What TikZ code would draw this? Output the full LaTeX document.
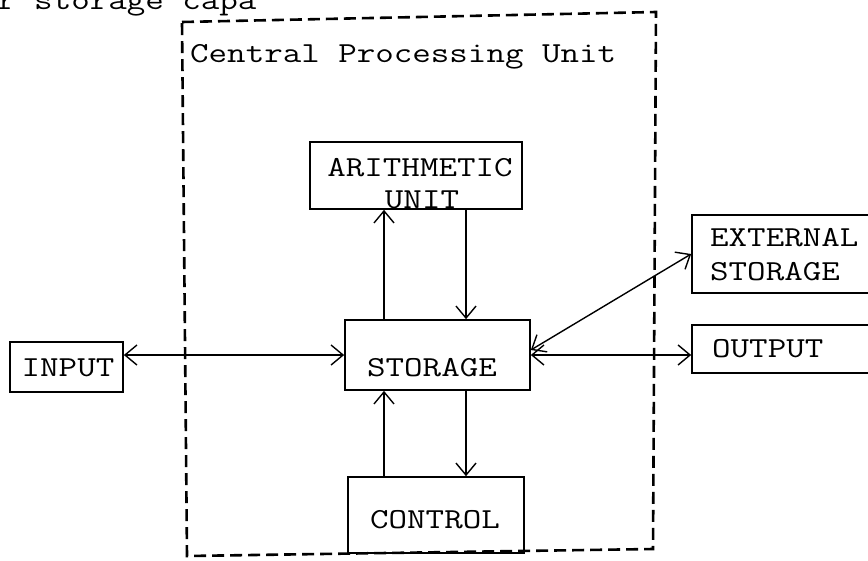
\documentclass[tikz,border=0pt]{standalone}
\usepackage{fontspec}
\usetikzlibrary{arrows.meta}
\newcommand\widetxt[1]{\scalebox{1.24}[1]{#1}}
\tikzset{
  box/.style={draw=black, line width=1.7pt, inner sep=0pt, minimum width=#1},
  lbl/.style={inner sep=0pt, font=\ttfamily\fontsize{29}{32}\selectfont},
  conn/.style={line width=1.4pt, {Straight Barb[length=12pt,width=20pt]}-{Straight Barb[length=12pt,width=20pt]}},
  one/.style={line width=1.4pt, -{Straight Barb[length=12pt,width=20pt]}},
  cpu/.style={line width=2.6pt, dash pattern=on 12pt off 6pt}
}
\begin{document}
\begin{tikzpicture}[x=1pt,y=-1pt]
\useasboundingbox (0,0) rectangle (868,560);
\clip (0,0) rectangle (868,560);
% partial line of text cut off at the top
\node[lbl, anchor=base west] (toptxt) at (-3,9) {\widetxt{r storage capa}};
% CPU dashed outline
\coordinate (c1) at (182,22);
\coordinate (c2) at (656,12);
\coordinate (c3) at (653,549);
\coordinate (c4) at (187,556);
\draw[cpu] (c1) -- (c2) -- (c3) -- (c4) -- cycle;
\node[lbl, anchor=base west] (cputxt) at (190,62) {\widetxt{Central Processing Unit}};
% boxes
\node[box=113pt, minimum height=50pt] (input) at (66.5,367) {};
\node[box=185pt, minimum height=70pt] (storage) at (437.5,355) {};
\node[box=212pt, minimum height=67pt] (arith) at (416,175.5) {};
\node[box=176pt, minimum height=76pt] (control) at (436,515) {};
\node[box=208pt, minimum height=78pt] (ext) at (796,254) {};
\node[box=208pt, minimum height=48pt] (output) at (796,349) {};
% texts
\node[lbl, anchor=base] (inputT) at (68,376) {\widetxt{INPUT}};
\node[lbl, anchor=base] (storageT) at (432,376) {\widetxt{STORAGE}};
\node[lbl, anchor=base] (arithT1) at (420,176) {\widetxt{ARITHMETIC}};
\node[lbl, anchor=base] (arithT2) at (422,208) {\widetxt{UNIT}};
\node[lbl, anchor=base] (controlT) at (435,528) {\widetxt{CONTROL}};
\node[lbl, anchor=base west] (extT1) at (710,246) {\widetxt{EXTERNAL}};
\node[lbl, anchor=base west] (extT2) at (710,280) {\widetxt{STORAGE}};
\node[lbl, anchor=base west] (outputT) at (712,357) {\widetxt{OUTPUT}};
% connectors
\coordinate (lx) at (384,0);
\coordinate (rx) at (466,0);
\draw[conn] (storage.west -| input.east) -- (storage.west);
\draw[conn] (storage.east) -- (storage.east -| output.west);
\draw[conn] ([yshift=5pt]storage.east) -- (ext.west);
\draw[one] (storage.north -| lx) -- (arith.south -| lx);
\draw[one] (arith.south -| rx) -- (storage.north -| rx);
\draw[one] (control.north -| lx) -- (storage.south -| lx);
\draw[one] (storage.south -| rx) -- (control.north -| rx);
\end{tikzpicture}
\end{document}
